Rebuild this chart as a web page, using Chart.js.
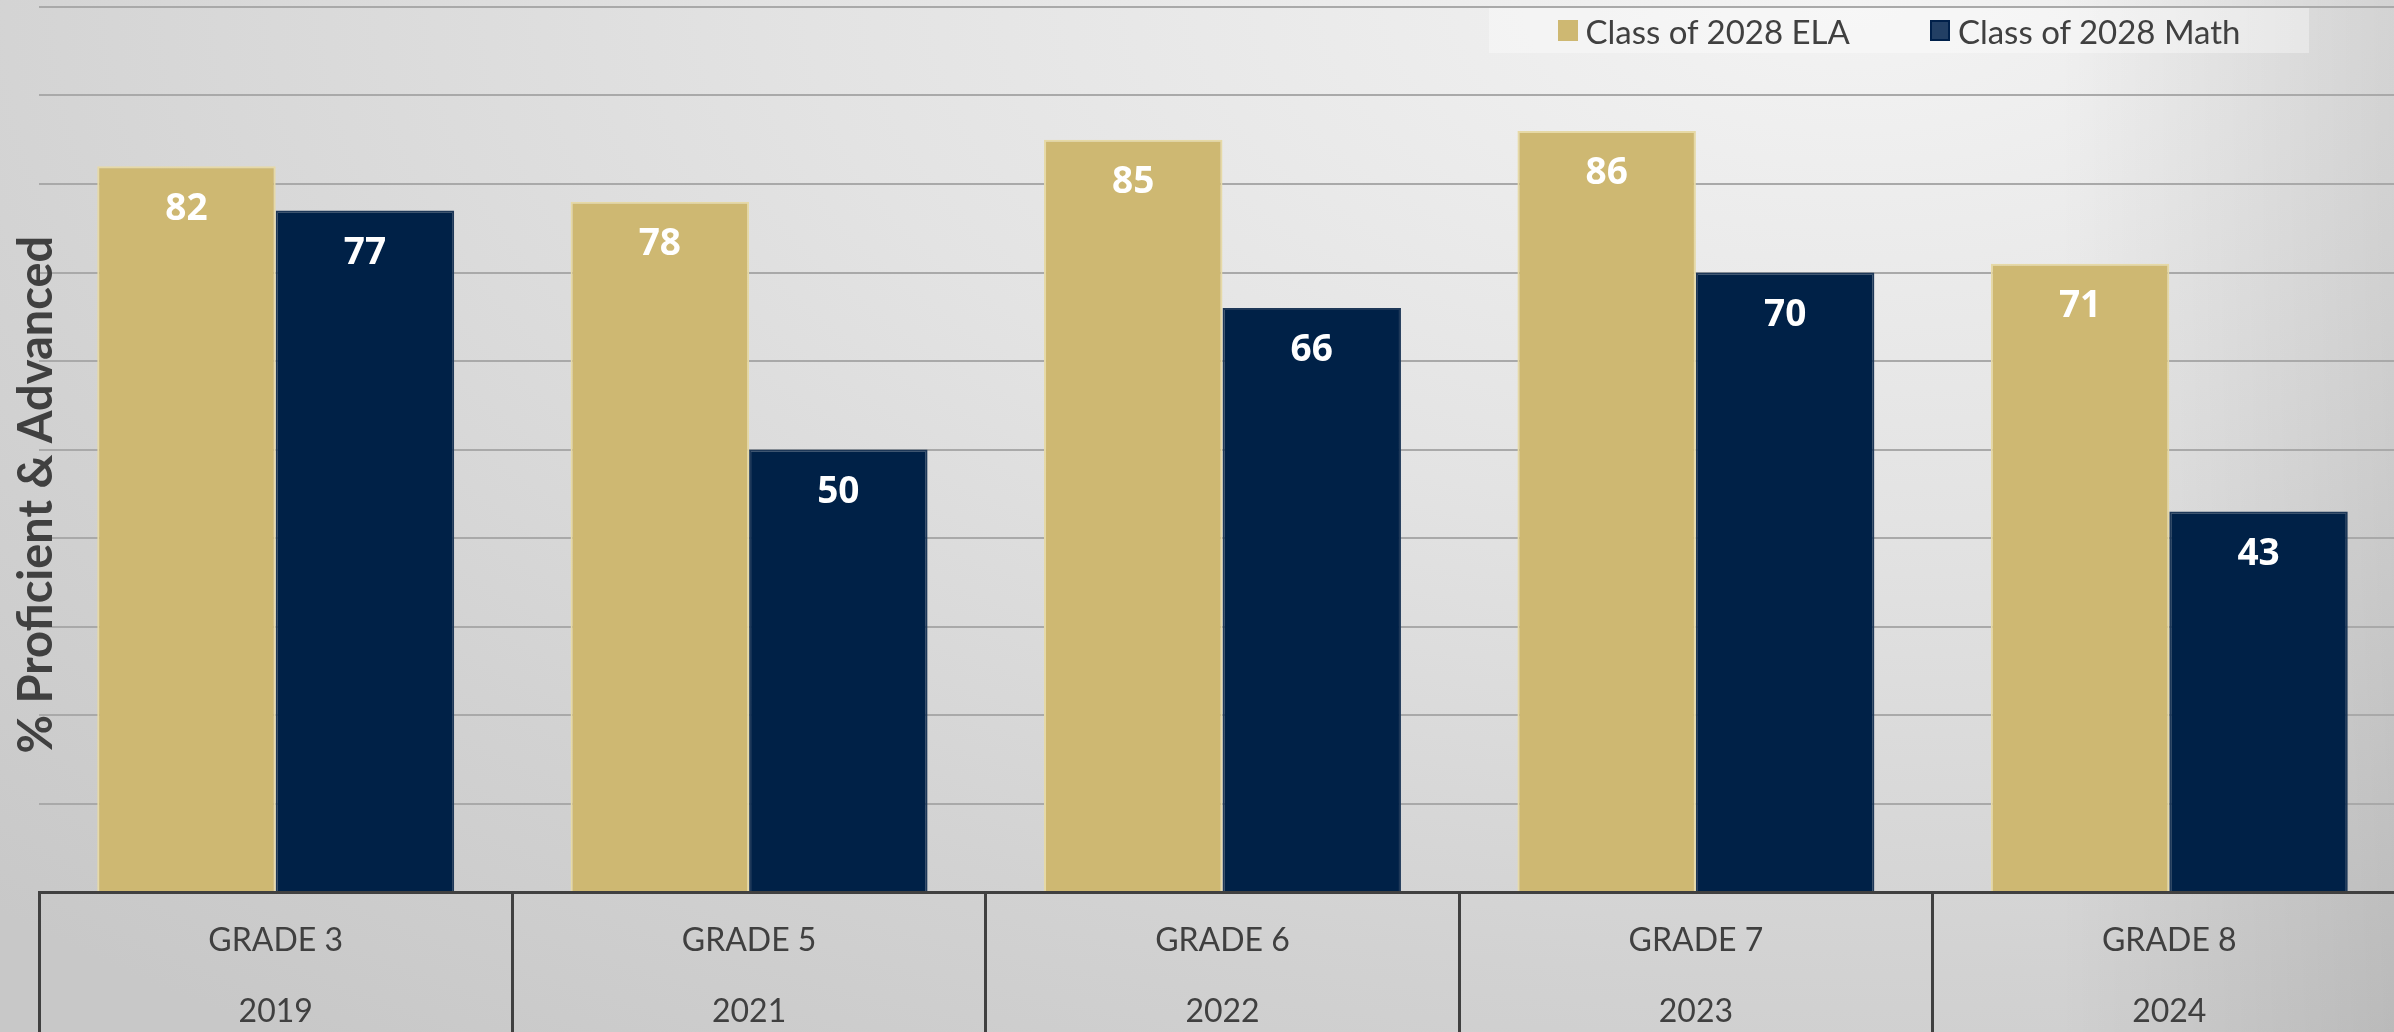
<!DOCTYPE html>
<html>
<head>
<meta charset="utf-8">
<script src="https://cdn.jsdelivr.net/npm/chart.js@4.4.1/dist/chart.umd.min.js"></script>
<style>
    html, body { margin: 0; padding: 0; overflow: hidden; }
    body {
        width: 2394px;
        height: 1032px;
        position: relative;
        font-family: Lato, sans-serif;
        background:
            linear-gradient(to right, rgba(0,0,0,0) 86%, rgba(0,0,0,0.10) 100%),
            radial-gradient(ellipse 2600px 1300px at 1850px 0px, #f3f3f3 0%, #e3e3e3 40%, #d2d2d2 75%, #c8c8c8 100%);
    }
    #chartOne { position: absolute; left: 0; top: 0; }
    #legend {
        position: absolute;
        left: 1489px;
        top: 8px;
        width: 820px;
        height: 45px;
        background: rgba(255,255,255,0.35);
        display: flex;
        justify-content: center;
        align-items: center;
        gap: 80px;
        font-size: 33px;
        color: #404040;
    }
    .item { display: flex; align-items: center; }
    .swatch { width: 20px; height: 21px; margin-right: 8px; box-sizing: border-box; }
</style>
</head>
<body>
<!-- el canvas es un poco mas ancho que la ventana: la ultima celda del eje queda cortada -->
<canvas id="chartOne" width="2406" height="1032"></canvas>
<div id="legend"></div>
<script>
// datos del grafico
const grades = ['GRADE 3', 'GRADE 5', 'GRADE 6', 'GRADE 7', 'GRADE 8'];
const years = ['2019', '2021', '2022', '2023', '2024'];
const seriesNames = ['Class of 2028 ELA', 'Class of 2028 Math'];
const elaValues = [82, 78, 85, 86, 71];
const mathValues = [77, 50, 66, 70, 43];
const yMin = 0;
const yMax = 100;
const yStep = 10;

const colors = ['#CEB872', '#002147'];
const borderColors = ['#E6D9A6', '#1E3858'];
const swatchColors = ['#CEB872', '#223F64'];
const swatchBorders = ['#CEB872', '#00204A'];

// etiquetas de dos lineas para el eje x
const labels = grades.map((g, i) => [g, years[i]]);

// valores blancos dentro de cada barra
const barLabels = {
    id: 'barLabels',
    afterDatasetsDraw(chart) {
        const ctx = chart.ctx;
        ctx.save();
        ctx.font = 'bold 37px "Open Sans"';
        ctx.fillStyle = '#ffffff';
        ctx.textAlign = 'center';
        ctx.textBaseline = 'middle';
        chart.data.datasets.forEach((ds, i) => {
            chart.getDatasetMeta(i).data.forEach((bar, j) => {
                ctx.fillText(ds.data[j], bar.x, bar.y + 43);
            });
        });
        ctx.restore();
    }
};

// titulo vertical del eje y
const yTitle = {
    id: 'yTitle',
    afterDraw(chart) {
        const { ctx, chartArea } = chart;
        ctx.save();
        ctx.translate(52, chartArea.top + (chartArea.bottom - chartArea.top) * 0.551);
        ctx.rotate(-Math.PI / 2);
        ctx.font = 'bold 47px Lato';
        ctx.fillStyle = '#404040';
        ctx.textAlign = 'center';
        ctx.textBaseline = 'alphabetic';
        ctx.fillText('% Proficient & Advanced', 0, 0);
        ctx.restore();
    }
};

function buildLegend() {
    const legend = document.getElementById('legend');
    seriesNames.forEach((name, i) => {
        legend.insertAdjacentHTML('beforeend',
            `<div class="item"><span class="swatch" style="background:${swatchColors[i]};border:2px solid ${swatchBorders[i]}"></span>${name}</div>`);
    });
}

function getChartOne() {
    const ctxOne = document.getElementById('chartOne').getContext('2d');
    return new Chart(ctxOne, {
        type: 'bar',
        data: {
            labels: labels,
            datasets: [{
                label: seriesNames[0],
                data: elaValues,
                backgroundColor: colors[0],
                borderColor: borderColors[0],
                borderWidth: 2
            }, {
                label: seriesNames[1],
                data: mathValues,
                backgroundColor: colors[1],
                borderColor: borderColors[1],
                borderWidth: 2
            }]
        },
        options: {
            responsive: false,
            animation: false,
            layout: { padding: { top: 7, right: 0, bottom: 0, left: 0 } },
            datasets: {
                bar: { barPercentage: 1, categoryPercentage: 0.754 }
            },
            plugins: {
                legend: { display: false },
                tooltip: { enabled: false }
            },
            scales: {
                x: {
                    offset: true,
                    grid: {
                        offset: true,
                        drawOnChartArea: false,
                        drawTicks: true,
                        tickLength: 140,
                        color: '#404040',
                        lineWidth: 3
                    },
                    border: { display: true, color: '#404040', width: 3 },
                    ticks: {
                        color: '#404040',
                        font: { family: 'Lato', size: 32, lineHeight: 2.22 },
                        padding: -127,
                        maxRotation: 0,
                        autoSkip: false
                    },
                    afterFit: (scale) => { scale.height = 140; }
                },
                y: {
                    min: yMin,
                    max: yMax,
                    ticks: { display: false, stepSize: yStep },
                    grid: { color: '#a9a9a9', lineWidth: 2, drawTicks: false },
                    border: { display: false },
                    afterFit: (scale) => { scale.width = 39; }
                }
            }
        },
        plugins: [barLabels, yTitle]
    });
}

buildLegend();
getChartOne();
</script>
</body>
</html>
